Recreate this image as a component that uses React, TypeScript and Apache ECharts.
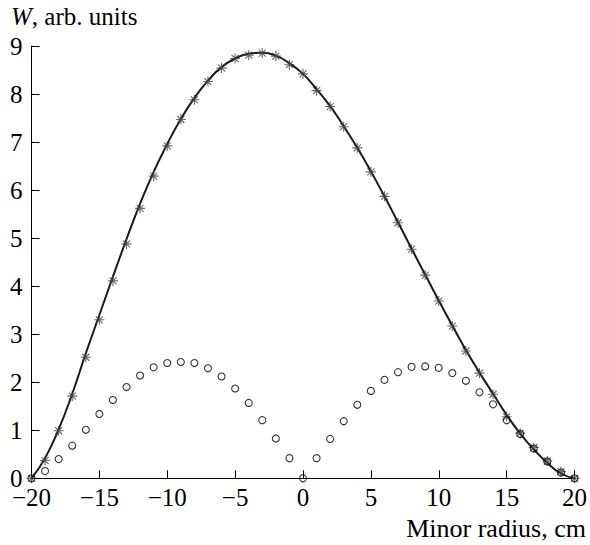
import React, { useEffect, useRef } from "react";
import * as echarts from "echarts";

const xPositions = [
  -20, -19, -18, -17, -16, -15, -14, -13, -12, -11, -10, -9, -8, -7, -6, -5, -4, -3, -2, -1, 0,
  1, 2, 3, 4, 5, 6, 7, 8, 9, 10, 11, 12, 13, 14, 15, 16, 17, 18, 19, 20,
];

// asterisk markers
const starValues = [
  0, 0.37, 0.99, 1.71, 2.52, 3.3, 4.11, 4.88, 5.62, 6.29, 6.92, 7.47, 7.88, 8.26, 8.54, 8.74, 8.81, 8.85, 8.79, 8.61, 8.42,
  8.07, 7.74, 7.32, 6.88, 6.38, 5.87, 5.32, 4.77, 4.23, 3.69, 3.17, 2.65, 2.19, 1.75, 1.28, 0.94, 0.64, 0.36, 0.14, 0,
];

// solid curve
const curveValues = [
  0, 0.42, 1.02, 1.76, 2.6, 3.4, 4.2, 4.98, 5.72, 6.38, 6.96, 7.48, 7.92, 8.28, 8.56, 8.74, 8.84, 8.86, 8.8, 8.64, 8.42,
  8.1, 7.75, 7.33, 6.88, 6.39, 5.87, 5.33, 4.78, 4.24, 3.7, 3.18, 2.67, 2.2, 1.76, 1.32, 0.93, 0.6, 0.32, 0.1, 0,
];

// open circles
const circleValues = [
  0, 0.15, 0.4, 0.68, 1.01, 1.34, 1.63, 1.9, 2.14, 2.31, 2.4, 2.42, 2.4, 2.29, 2.12, 1.87, 1.57, 1.21, 0.83, 0.42, 0,
  0.42, 0.82, 1.19, 1.53, 1.82, 2.05, 2.21, 2.32, 2.33, 2.3, 2.19, 2.03, 1.79, 1.54, 1.21, 0.92, 0.62, 0.35, 0.12, 0,
];

const xTitle = "Minor radius, cm";
const yTitleItalic = "W";
const yTitleRest = ", arb. units";

const FONT = "'Liberation Serif', 'DejaVu Serif', serif";

export default function App() {
  const ref = useRef<HTMLDivElement>(null);
  useEffect(() => {
    if (!ref.current) return;
    const chart = echarts.init(ref.current, null, { renderer: "svg" });
    const pair = (vals: number[]) => xPositions.map((x, i) => [x, vals[i]]);
    const fmt = (v: number) => (v < 0 ? "\u2212" + Math.abs(v) : String(v));
    chart.setOption({
      animation: false,
      backgroundColor: "#ffffff",
      grid: { left: 31.5, right: 13.3, top: 46, bottom: 66.7, containLabel: false },
      xAxis: {
        type: "value",
        min: -20,
        max: 20,
        interval: 5,
        axisLine: { show: true, onZero: false, lineStyle: { color: "#000", width: 1 } },
        axisTick: { show: true, inside: true, length: 8, lineStyle: { color: "#000" } },
        axisLabel: {
          color: "#000",
          fontFamily: FONT,
          fontSize: 25,
          lineHeight: 19,
          margin: 10,
          formatter: fmt,
        },
        splitLine: { show: false },
      },
      yAxis: {
        type: "value",
        min: 0,
        max: 9,
        interval: 1,
        axisLine: { show: true, onZero: false, lineStyle: { color: "#000", width: 1 } },
        axisTick: { show: true, inside: true, length: 8, lineStyle: { color: "#000" } },
        axisLabel: { color: "#000", fontFamily: FONT, fontSize: 25, lineHeight: 17, margin: 9 },
        splitLine: { show: false },
      },
      graphic: [
        {
          type: "text",
          left: 11,
          top: 4,
          style: {
            text: "{i|" + yTitleItalic + "}{n|" + yTitleRest + "}",
            rich: {
              i: { fontFamily: FONT, fontSize: 25, fontStyle: "italic", fill: "#000" },
              n: { fontFamily: FONT, fontSize: 25, fill: "#000" },
            },
          },
        },
        {
          type: "text",
          right: 4,
          top: 515,
          style: { text: xTitle, fontFamily: FONT, fontSize: 26, fill: "#000" },
        },
      ],
      series: [
        {
          type: "line",
          data: pair(curveValues),
          smooth: true,
          showSymbol: false,
          lineStyle: { color: "#1a1a1a", width: 2 },
          z: 3,
        },
        {
          type: "scatter",
          data: pair(starValues),
          symbol: "path://M5,0L5,10M0,5L10,5M1.5,1.5L8.5,8.5M1.5,8.5L8.5,1.5",
          symbolSize: 10,
          itemStyle: { color: "transparent", borderColor: "#444", borderWidth: 1.1 },
          z: 4,
        },
        {
          type: "scatter",
          data: pair(circleValues),
          symbol: "circle",
          symbolSize: 7,
          itemStyle: { color: "transparent", borderColor: "#000", borderWidth: 1.1 },
          z: 5,
        },
      ],
    });
    return () => chart.dispose();
  }, []);
  return (
    <div
      ref={ref}
      style={{ position: "absolute", left: 0, top: 0, width: 590, height: 545, background: "#fff" }}
    />
  );
}
